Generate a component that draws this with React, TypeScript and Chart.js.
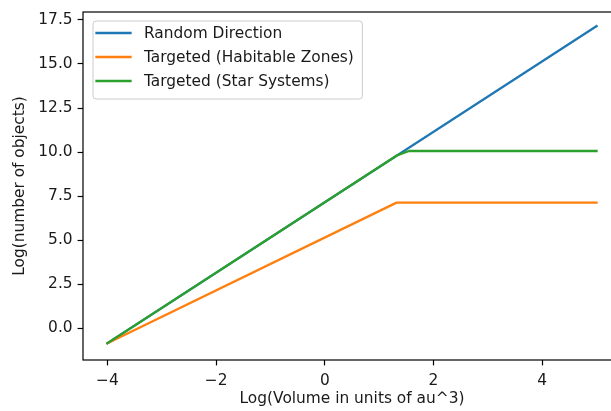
import React, { useEffect, useRef } from "react";
import { Chart, registerables } from "chart.js";

Chart.register(...registerables);

// ---- data ----
const seriesLabels = ["Random Direction", "Targeted (Habitable Zones)", "Targeted (Star Systems)"];
const randomX = [-4, 5];
const randomY = [-0.85, 17.15];
const habitableX = [-4, 1.32, 5];
const habitableY = [-0.85, 7.13, 7.13];
const starX = [-4, 1.34, 1.55, 5];
const starY = [-0.85, 9.83, 10.06, 10.06];
const xTicks = [-4, -2, 0, 2, 4];
const yTicks = [0, 2.5, 5, 7.5, 10, 12.5, 15, 17.5];
const xTitle = "Log(Volume in units of au^3)";
const yTitle = "Log(number of objects)";

const colors = ["#1f77b4", "#ff7f0e", "#2ca02c"];
const FS = 15.4;
const FONT = "DejaVu Sans";
const TEXT = "#1a1a1a";

const toPoints = (xs: number[], ys: number[]) => xs.map((x, i) => ({ x, y: ys[i] }));

const framePlugin = {
  id: "mplFrame",
  afterDatasetsDraw(chart: any) {
    const { ctx, chartArea } = chart;
    ctx.save();
    ctx.strokeStyle = "#000";
    ctx.lineWidth = 1.2;
    ctx.strokeRect(chartArea.left, chartArea.top, chartArea.right - chartArea.left, chartArea.bottom - chartArea.top);
    ctx.restore();
  },
};

const legendPlugin = {
  id: "mplLegend",
  afterDraw(chart: any) {
    const { ctx, chartArea } = chart;
    ctx.save();
    ctx.font = `${FS}px "${FONT}"`;
    const labels: string[] = chart.data.datasets.map((d: any) => d.label);
    const maxW = Math.max(...labels.map((l) => ctx.measureText(l).width));
    const x0 = chartArea.left + 9.5;
    const y0 = chartArea.top + 8.5;
    const w = 51.5 + maxW + 8;
    const h = 78;
    ctx.beginPath();
    (ctx as any).roundRect(x0 + 0.5, y0 + 0.5, w, h, 3);
    ctx.fillStyle = "rgba(255,255,255,0.8)";
    ctx.fill();
    ctx.strokeStyle = "#cccccc";
    ctx.lineWidth = 1;
    ctx.stroke();
    chart.data.datasets.forEach((d: any, i: number) => {
      const y = y0 + 12.5 + i * 24;
      ctx.beginPath();
      ctx.moveTo(x0 + 4, y);
      ctx.lineTo(x0 + 38, y);
      ctx.strokeStyle = d.borderColor;
      ctx.lineWidth = 2.3;
      ctx.lineCap = "square";
      ctx.stroke();
      ctx.fillStyle = TEXT;
      ctx.textBaseline = "middle";
      ctx.textAlign = "left";
      ctx.fillText(d.label, x0 + 51.5, y + 0.5);
    });
    ctx.restore();
  },
};

export default function App() {
  const ref = useRef<HTMLCanvasElement | null>(null);

  useEffect(() => {
    if (!ref.current) return;
    const series = [toPoints(randomX, randomY), toPoints(habitableX, habitableY), toPoints(starX, starY)];
    const orders = [2, 1, 0];
    const chart = new Chart(ref.current, {
      type: "line",
      data: {
        datasets: series.map((data, i) => ({
          label: seriesLabels[i],
          data,
          borderColor: colors[i],
          backgroundColor: colors[i],
          borderWidth: 2.3,
          pointRadius: 0,
          pointHoverRadius: 0,
          tension: 0,
          fill: false,
          borderCapStyle: "square" as const,
          borderJoinStyle: "round" as const,
          order: orders[i],
        })),
      },
      options: {
        animation: false,
        responsive: false,
        devicePixelRatio: 1,
        events: [],
        layout: { padding: { top: 12, right: 19, left: 0, bottom: 0 } },
        plugins: { legend: { display: false }, tooltip: { enabled: false } },
        scales: {
          x: {
            type: "linear",
            min: -4.45,
            max: 5.45,
            afterBuildTicks: (s: any) => {
              s.ticks = xTicks.map((v) => ({ value: v }));
            },
            afterFit: (s: any) => {
              s.height = 51;
              s.paddingLeft = 0;
              s.paddingRight = 0;
            },
            ticks: {
              autoSkip: false,
              maxRotation: 0,
              padding: 6,
              color: TEXT,
              font: { family: FONT, size: FS },
              callback: (v: any) => (Number(v) < 0 ? "\u2212" + Math.abs(Number(v)) : String(v)),
            },
            grid: {
              display: true,
              drawOnChartArea: false,
              drawTicks: true,
              tickLength: 5.4,
              tickColor: "#000",
              tickWidth: 1.2,
            },
            border: { display: false },
            title: {
              display: true,
              text: xTitle,
              color: TEXT,
              font: { family: FONT, size: FS },
              padding: { top: 0, bottom: 3 },
            },
          },
          y: {
            type: "linear",
            min: -1.8,
            max: 17.95,
            afterBuildTicks: (s: any) => {
              s.ticks = yTicks.map((v) => ({ value: v }));
            },
            afterFit: (s: any) => {
              s.width = 83;
              s.paddingTop = 0;
              s.paddingBottom = 0;
            },
            ticks: {
              autoSkip: false,
              padding: 5,
              color: TEXT,
              font: { family: FONT, size: FS },
              callback: (v: any) => Number(v).toFixed(1),
            },
            grid: {
              display: true,
              drawOnChartArea: false,
              drawTicks: true,
              tickLength: 5.4,
              tickColor: "#000",
              tickWidth: 1.2,
            },
            border: { display: false },
            title: {
              display: true,
              text: yTitle,
              color: TEXT,
              font: { family: FONT, size: FS },
              padding: { top: 11, bottom: 0 },
            },
          },
        },
      },
      plugins: [framePlugin, legendPlugin],
    });
    return () => chart.destroy();
  }, []);

  return (
    <div
      style={{
        position: "absolute",
        left: 0,
        top: 0,
        width: 611,
        height: 411,
        overflow: "hidden",
        background: "#fff",
      }}
    >
      <canvas ref={ref} width={640} height={411} style={{ width: 640, height: 411, display: "block" }} />
    </div>
  );
}
